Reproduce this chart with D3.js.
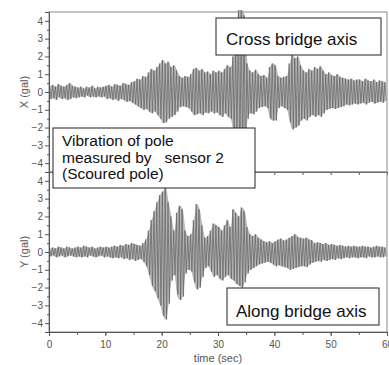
<!DOCTYPE html>
<html>
<head>
<meta charset="utf-8">
<script src="https://cdn.jsdelivr.net/npm/d3@7"></script>
<style>
  body { margin: 0; background: #fff; }
  svg { display: block; font-family: "Liberation Sans", Arial, sans-serif; }
</style>
</head>
<body>
<div id="chart"></div>
<script>
// envelope of the waveform, one value per 0.5 s bin (0 .. 59.5 s), in gal
const binStep = 0.5;
const xUpper = [
  0.35, 0.4, 0.3, 0.45, 0.35, 0.3, 0.4, 0.5, 0.35, 0.3,
  0.25, 0.3, 0.2, 0.3, 0.25, 0.35, 0.2, 0.3, 0.25, 0.3,
  0.35, 0.4, 0.3, 0.45, 0.4, 0.35, 0.5, 0.45, 0.4, 0.55,
  0.6, 0.75, 0.7, 0.9, 0.85, 1.1, 1.3, 1.2, 1.4, 1.6,
  1.8, 1.6, 1.7, 1.4, 1.5, 1.2, 0.9, 0.8, 0.9, 0.85,
  1.0, 1.3, 1.35, 1.2, 1.3, 1.1, 1.15, 1.0, 1.2, 1.1,
  1.2, 1.1, 1.3, 1.5, 1.4, 2.0, 2.4, 4.6, 4.6, 4.3,
  1.6, 1.2, 1.1, 1.25, 1.0, 0.9, 0.95, 0.8, 1.4, 1.6,
  1.5, 0.9, 0.8, 0.85, 0.9, 1.6, 2.1, 1.9, 2.0, 1.5,
  1.2, 1.1, 1.3, 1.2, 1.4, 1.3, 1.45, 1.2, 1.0, 1.1,
  0.95, 0.9, 1.0, 0.85, 0.8, 0.75, 0.7, 0.75, 0.65, 0.7,
  0.7, 0.6, 0.75, 0.65, 0.6, 0.7, 0.55, 0.65, 0.6, 0.55
];
const xLower = [
  0.4, 0.35, 0.45, 0.3, 0.4, 0.35, 0.45, 0.4, 0.3, 0.35,
  0.3, 0.25, 0.3, 0.2, 0.3, 0.25, 0.3, 0.25, 0.3, 0.25,
  0.4, 0.35, 0.45, 0.4, 0.5, 0.4, 0.45, 0.55, 0.5, 0.6,
  0.7, 0.8, 0.9, 1.0, 0.95, 1.1, 1.2, 1.1, 1.3, 1.5,
  1.75, 1.7, 1.5, 1.4, 1.3, 1.1, 0.85, 0.8, 0.85, 0.9,
  1.1, 1.3, 1.25, 1.2, 1.3, 1.15, 1.2, 1.1, 1.2, 1.15,
  1.3, 1.4, 1.2, 1.4, 1.5, 2.2, 2.5, 4.4, 4.5, 4.3,
  1.5, 1.2, 1.25, 1.1, 0.9, 0.85, 0.8, 0.9, 1.5, 1.6,
  1.6, 0.9, 0.8, 0.9, 1.0, 1.7, 2.1, 2.0, 1.9, 1.6,
  1.5, 1.6, 1.4, 1.3, 1.4, 1.3, 1.4, 1.2, 1.0, 0.95,
  0.9, 0.95, 0.9, 0.85, 0.8, 0.7, 0.75, 0.7, 0.65, 0.7,
  0.65, 0.6, 0.7, 0.6, 0.55, 0.65, 0.6, 0.55, 0.6, 0.5
];
const yUpper = [
  0.2, 0.25, 0.2, 0.3, 0.25, 0.2, 0.3, 0.25, 0.2, 0.25,
  0.3, 0.25, 0.35, 0.3, 0.25, 0.3, 0.2, 0.25, 0.3, 0.25,
  0.3, 0.25, 0.3, 0.35, 0.3, 0.4, 0.35, 0.45, 0.4, 0.5,
  0.45, 0.4, 0.35, 0.5, 0.7, 1.2, 1.8, 2.3, 2.8, 3.2,
  3.4, 3.6, 2.8, 2.0, 1.2, 2.2, 2.6, 2.4, 1.2, 0.9,
  1.0, 1.8, 2.7, 2.4, 1.5, 0.8, 0.9, 1.2, 1.6, 1.5,
  1.4, 1.2, 1.5, 1.8, 1.4, 2.4, 2.2, 2.0, 2.5, 2.3,
  1.4, 1.0, 0.9, 1.0, 0.8, 0.7, 0.6, 0.55, 0.6, 0.5,
  0.6, 0.7, 0.75, 0.65, 0.7, 0.8, 0.9, 1.0, 0.85, 0.8,
  0.75, 0.8, 0.7, 0.65, 0.5, 0.55, 0.5, 0.45, 0.5, 0.4,
  0.45, 0.4, 0.35, 0.4, 0.35, 0.3, 0.35, 0.3, 0.35, 0.3,
  0.3, 0.35, 0.3, 0.3, 0.25, 0.3, 0.35, 0.3, 0.3, 0.25
];
const yLower = [
  0.25, 0.2, 0.3, 0.25, 0.2, 0.3, 0.25, 0.2, 0.25, 0.3,
  0.25, 0.3, 0.25, 0.3, 0.2, 0.25, 0.3, 0.25, 0.2, 0.3,
  0.25, 0.3, 0.35, 0.3, 0.35, 0.3, 0.4, 0.35, 0.45, 0.4,
  0.5, 0.45, 0.4, 0.55, 0.8, 1.3, 1.9, 2.2, 2.6, 3.0,
  3.6, 3.8, 2.9, 1.6, 1.3, 2.4, 2.7, 2.5, 1.2, 1.0,
  1.1, 1.7, 2.1, 2.0, 1.4, 0.9, 0.8, 1.1, 1.4, 1.3,
  1.5, 1.6, 1.4, 1.3, 1.5, 1.6, 1.8, 1.9, 2.0, 1.7,
  1.2, 1.0, 0.9, 0.8, 0.7, 0.65, 0.6, 0.55, 0.6, 0.7,
  0.8, 0.75, 0.8, 0.85, 0.9, 1.0, 0.95, 0.9, 0.85, 0.8,
  0.8, 0.85, 0.7, 0.6, 0.55, 0.5, 0.55, 0.45, 0.5, 0.45,
  0.4, 0.45, 0.35, 0.4, 0.35, 0.3, 0.35, 0.3, 0.3, 0.35,
  0.3, 0.3, 0.35, 0.25, 0.3, 0.3, 0.25, 0.3, 0.3, 0.25
];

const xTicks = [0, 10, 20, 30, 40, 50, 60];
const yTicks = [-4, -3, -2, -1, 0, 1, 2, 3, 4];

const width = 389, height = 365;
const left = 49, right = 387;

const svg = d3.select('#chart')
  .append('svg')
  .attr('width', width)
  .attr('height', height);

const x = d3.scaleLinear().domain([0, 60]).range([left, right]);

const panels = [
  { name: 'X (gal)', upper: xUpper, lower: xLower, top: 12, bottom: 172 },
  { name: 'Y (gal)', upper: yUpper, lower: yLower, top: 172, bottom: 332 }
];

// zigzag through the envelope: max then min inside each bin
function zigzag(upper, lower) {
  const pts = [];
  upper.forEach((u, i) => {
    const t0 = i * binStep;
    pts.push([t0 + binStep * 0.25, u]);
    pts.push([t0 + binStep * 0.75, -lower[i]]);
  });
  return pts;
}

panels.forEach(p => {
  const y = d3.scaleLinear().domain([-4.5, 4.5]).range([p.bottom, p.top]);

  // light band for the envelope
  const band = d3.area()
    .x((d, i) => x(i * binStep + binStep / 2))
    .y0((d, i) => y(-p.lower[i]))
    .y1(d => y(d))
    .curve(d3.curveMonotoneX);

  svg.append('path')
    .datum(p.upper)
    .attr('fill', '#b8b8b8')
    .attr('d', band);

  const line = d3.line()
    .x(d => x(d[0]))
    .y(d => y(d[1]));

  svg.append('path')
    .datum(zigzag(p.upper, p.lower))
    .attr('fill', 'none')
    .attr('stroke', '#666')
    .attr('stroke-width', 0.75)
    .attr('d', line);

  // frame
  svg.append('rect')
    .attr('x', left)
    .attr('y', p.top)
    .attr('width', right - left)
    .attr('height', p.bottom - p.top)
    .attr('fill', 'none')
    .attr('stroke', '#8a8a8a')
    .attr('stroke-width', 1);

  // left axis, whole numbers labelled, halves as minor ticks
  const yAxis = d3.axisLeft(y)
    .tickValues(yTicks)
    .tickSize(4)
    .tickPadding(2)
    .tickFormat(d3.format('d'));

  const ag = svg.append('g')
    .attr('transform', `translate(${left},0)`)
    .call(yAxis);
  ag.select('.domain').attr('stroke', '#555');
  ag.selectAll('.tick line').attr('stroke', '#555');
  ag.selectAll('.tick text')
    .attr('fill', '#555')
    .style('font-size', '10px');

  svg.append('g')
    .attr('transform', `translate(${left},0)`)
    .call(d3.axisLeft(y).tickValues(d3.range(-4.5, 4.6, 1)).tickSize(2).tickFormat(''))
    .call(g => g.select('.domain').remove())
    .selectAll('line').attr('stroke', '#555');

  // ticks along the panel's bottom edge
  svg.append('g')
    .attr('transform', `translate(0,${p.bottom})`)
    .call(d3.axisBottom(x).tickValues(d3.range(0, 61, 5)).tickSize(3).tickFormat(''))
    .call(g => g.select('.domain').attr('stroke', '#555'))
    .selectAll('line').attr('stroke', '#555');

  svg.append('text')
    .attr('transform', `translate(28,${(p.top + p.bottom) / 2}) rotate(-90)`)
    .attr('text-anchor', 'middle')
    .attr('fill', '#555')
    .style('font-size', '11px')
    .text(p.name);
});

// bottom labelled axis
const xa = svg.append('g')
  .attr('transform', `translate(0,332)`)
  .call(d3.axisBottom(x).tickValues(xTicks).tickSize(4).tickPadding(5).tickFormat(d3.format('d')));
xa.select('.domain').attr('stroke', '#555');
xa.selectAll('.tick line').attr('stroke', '#555');
xa.selectAll('.tick text').attr('fill', '#555').style('font-size', '10px');

svg.append('text')
  .attr('x', (left + right) / 2)
  .attr('y', 362)
  .attr('text-anchor', 'middle')
  .attr('fill', '#555')
  .style('font-size', '11px')
  .text('time (sec)');

// annotation boxes
const boxes = [
  { x: 216, y: 18, w: 165, h: 37, lines: ['Cross bridge axis'], tx: 226, ty: 45, fs: 17, lh: 0 },
  { x: 53, y: 128, w: 202, h: 60, lines: ['Vibration of pole', 'measured by   sensor 2', '(Scoured pole)'], tx: 62, ty: 146, fs: 15.5, lh: 16.5 },
  { x: 227, y: 288, w: 152, h: 37, lines: ['Along bridge axis'], tx: 236, ty: 317, fs: 17, lh: 0 }
];

boxes.forEach(b => {
  svg.append('rect')
    .attr('x', b.x)
    .attr('y', b.y)
    .attr('width', b.w)
    .attr('height', b.h)
    .attr('fill', '#fff')
    .attr('stroke', '#222')
    .attr('stroke-width', 1);

  b.lines.forEach((s, i) => {
    svg.append('text')
      .attr('x', b.tx)
      .attr('y', b.ty + i * b.lh)
      .attr('fill', '#111')
      .style('font-size', b.fs + 'px')
      .style('white-space', 'pre')
      .text(s);
  });
});
</script>
</body>
</html>
